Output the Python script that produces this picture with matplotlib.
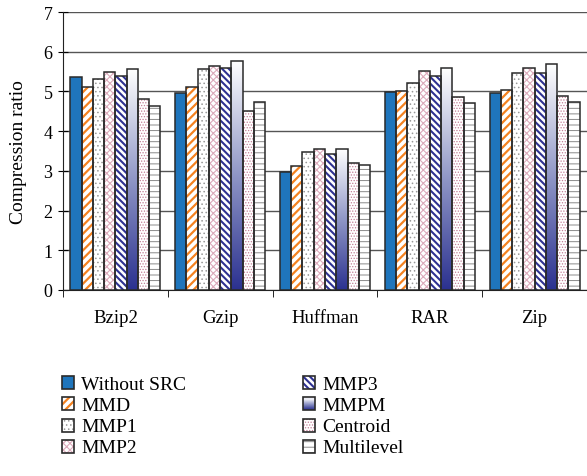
import numpy as np
import matplotlib
matplotlib.use("Agg")
import matplotlib.pyplot as plt
from matplotlib.patches import Rectangle
from matplotlib.legend_handler import HandlerBase
from matplotlib.colors import LinearSegmentedColormap

categories = ["Bzip2", "Gzip", "Huffman", "RAR", "Zip"]
series_names = ["Without SRC", "MMD", "MMP1", "MMP2", "MMP3", "MMPM", "Centroid", "Multilevel"]
without_src = [5.36, 4.97, 2.98, 4.98, 4.97]
mmd = [5.10, 5.10, 3.13, 5.01, 5.03]
mmp1 = [5.32, 5.57, 3.47, 5.22, 5.47]
mmp2 = [5.50, 5.65, 3.55, 5.51, 5.58]
mmp3 = [5.38, 5.59, 3.43, 5.40, 5.46]
mmpm = [5.56, 5.77, 3.55, 5.58, 5.68]
centroid = [4.82, 4.51, 3.20, 4.86, 4.89]
multilevel = [4.64, 4.74, 3.14, 4.72, 4.73]
values = [without_src, mmd, mmp1, mmp2, mmp3, mmpm, centroid, multilevel]

# (facecolor, hatch, hatch colour, hatch linewidth); None face -> gradient
styles = [
    ("#1f75bc", None, None, 1.0),
    ("white", "////", "#f58220", 1.6),
    ("white", "....", "#9a9a9a", 0.6),
    ("white", "xxxxx", "#dcaabb", 0.8),
    ("white", "\\\\\\\\\\", "#2e3192", 1.5),
    (None, None, None, 1.0),
    ("white", "......", "#c27d96", 0.6),
    ("white", "---", "#8a8a8a", 0.7),
]

plt.rcParams["font.family"] = ["Liberation Serif", "DejaVu Serif"]

grad_cmap = LinearSegmentedColormap.from_list("g", ["#2b3190", "#8f96c6", "white"])
edge = "#2a2a2a"

fig = plt.figure(figsize=(5.87, 4.77), dpi=100)
ax = fig.add_axes([63 / 587, 1 - 291 / 477, 524 / 587, 278 / 477])

x = np.arange(len(categories))
w = 0.1075
for i, (vals, st) in enumerate(zip(values, styles)):
    pos = x + (i - 3.5) * w
    face, hatch, hc, hlw = st
    if face is None:
        for p, v in zip(pos, vals):
            ax.imshow(np.linspace(0, 1, 256).reshape(-1, 1), extent=[p - w / 2, p + w / 2, 0, v],
                      aspect="auto", cmap=grad_cmap, origin="lower", zorder=2)
    elif hatch is None:
        ax.bar(pos, vals, w, color=face, linewidth=0, zorder=2)
    else:
        with plt.rc_context({"hatch.linewidth": hlw}):
            ax.bar(pos, vals, w, color=face, hatch=hatch, edgecolor=hc, linewidth=0, zorder=2)
    ax.bar(pos, vals, w, color="none", edgecolor=edge, linewidth=1.1, zorder=3)

ax.set_xlim(-0.5, 4.5)
ax.set_ylim(0, 7)
ax.set_yticks(range(8))
ax.yaxis.grid(True, color="#555555", linewidth=1)
ax.set_axisbelow(True)
for s in ["top", "right"]:
    ax.spines[s].set_visible(False)
ax.spines["left"].set_color("#222222")
ax.spines["bottom"].set_color("#222222")
ax.tick_params(axis="y", direction="inout", length=7, labelsize=13, pad=4)
ax.set_xticks(x)
ax.set_xticklabels(categories)
ax.tick_params(axis="x", which="major", length=0, labelsize=13.5, pad=14)
ax.set_xticks(np.arange(-0.5, 4.5, 1), minor=True)
ax.tick_params(axis="x", which="minor", direction="out", length=5)
ax.set_ylabel("Compression ratio", fontsize=14, labelpad=12)


class BoxHandler(HandlerBase):
    def __init__(self, st):
        super().__init__()
        self.st = st

    def create_artists(self, legend, orig, xd, yd, width, height, fontsize, trans):
        face, hatch, hc, hlw = self.st
        arts = []
        if face is None:
            n = 12
            for k in range(n):
                arts.append(Rectangle((xd, yd + height * k / n), width, height / n + 0.3,
                                      facecolor=grad_cmap(k / (n - 1)), edgecolor="none", transform=trans))
        elif hatch is None:
            arts.append(Rectangle((xd, yd), width, height, facecolor=face, edgecolor="none", transform=trans))
        else:
            with plt.rc_context({"hatch.linewidth": hlw}):
                arts.append(Rectangle((xd, yd), width, height, facecolor=face, hatch=hatch,
                                      edgecolor=hc, linewidth=0, transform=trans))
        arts.append(Rectangle((xd, yd), width, height, facecolor="none", edgecolor=edge,
                              linewidth=1.2, transform=trans))
        return arts


handles = [Rectangle((0, 0), 1, 1) for _ in series_names]
hmap = {h: BoxHandler(st) for h, st in zip(handles, styles)}
fig.legend(handles, series_names, handler_map=hmap, ncol=2, frameon=False,
           loc="upper left", bbox_to_anchor=(44 / 587, 1 - 359 / 477),
           fontsize=14, handlelength=0.65, handleheight=0.65, handletextpad=0.35,
           columnspacing=6.0, labelspacing=0.2)

fig.savefig("out.png", dpi=100)
